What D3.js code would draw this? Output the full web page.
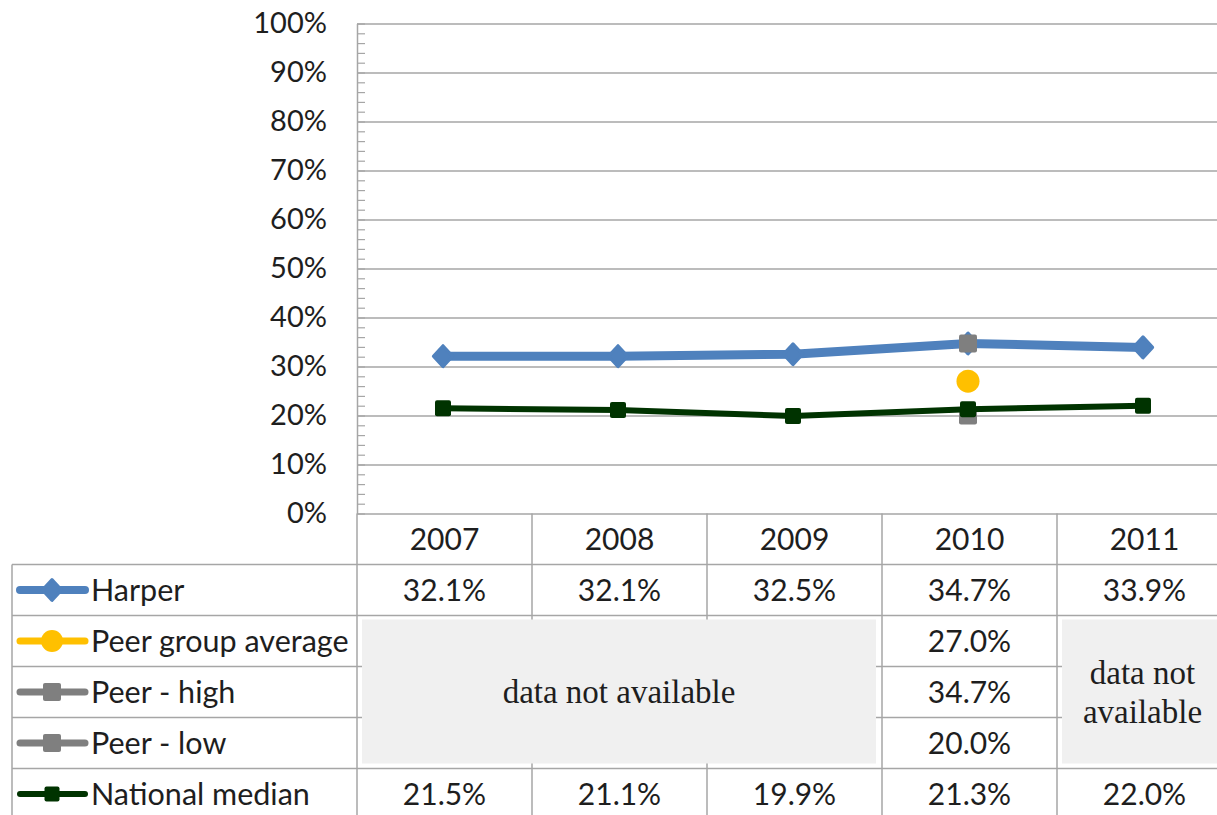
<!DOCTYPE html>
<html>
<head>
<meta charset="utf-8">
<script src="https://cdn.jsdelivr.net/npm/d3@7"></script>
<style>
  html, body { margin: 0; padding: 0; background: #fff; }
  svg { display: block; }
</style>
</head>
<body>
<svg id="chart" width="1217" height="815"></svg>
<script>
// ---------- data ----------
const years = ["2007", "2008", "2009", "2010", "2011"];
const harper = [0.321, 0.321, 0.325, 0.347, 0.339];
const peerAverage = [null, null, null, 0.270, null];
const peerHigh = [null, null, null, 0.347, null];
const peerLow = [null, null, null, 0.200, null];
const nationalMedian = [0.215, 0.211, 0.199, 0.213, 0.220];
const yTicks = [0, 0.1, 0.2, 0.3, 0.4, 0.5, 0.6, 0.7, 0.8, 0.9, 1.0];
const seriesNames = ["Harper", "Peer group average", "Peer - high", "Peer - low", "National median"];
const naText = "data not available";

const series = [
  { name: seriesNames[0], values: harper, color: "#4f81bd", width: 9, marker: "diamond", msize: 21, lsize: 21, lw: 8 },
  { name: seriesNames[1], values: peerAverage, color: "#ffc000", width: 6, marker: "circle", msize: 23, lsize: 22, lw: 7 },
  { name: seriesNames[2], values: peerHigh, color: "#7f7f7f", width: 6, marker: "square", msize: 18, lsize: 18, lw: 7 },
  { name: seriesNames[3], values: peerLow, color: "#7f7f7f", width: 6, marker: "square", msize: 18, lsize: 18, lw: 7 },
  { name: seriesNames[4], values: nationalMedian, color: "#003300", width: 6, marker: "square", msize: 16, lsize: 15, lw: 6 }
];

// ---------- layout ----------
const svg = d3.select("#chart");
const plotLeft = 357, plotTop = 23.5, plotBottom = 513.5;
const colW = 175;
const x = d3.scaleBand().domain(years).range([plotLeft, plotLeft + colW * years.length]).padding(0);
const y = d3.scaleLinear().domain([0, 1]).range([plotBottom, plotTop]);
const gridColor = "#a6a6a6";
const font = "Lato, 'Open Sans', sans-serif";
const fs = 30;
const txt = "#1e1e1e";

// gridlines
svg.append("g")
  .attr("transform", `translate(${plotLeft},0)`)
  .call(d3.axisRight(y).tickValues(yTicks).tickSize(1217 - plotLeft).tickFormat(""))
  .call(g => g.select(".domain").remove())
  .call(g => g.selectAll("line").attr("stroke", gridColor).attr("stroke-width", 1.5));

// minor ticks (inward)
const minor = d3.range(0, 1.0001, 0.02);
svg.append("g")
  .attr("transform", `translate(${plotLeft},0)`)
  .call(d3.axisRight(y).tickValues(minor).tickSize(8).tickFormat(""))
  .call(g => g.select(".domain").remove())
  .call(g => g.selectAll("line").attr("stroke", gridColor).attr("stroke-width", 1.2));

// y axis line + labels
svg.append("g")
  .attr("transform", `translate(${plotLeft},0)`)
  .call(d3.axisLeft(y).tickValues(yTicks).tickSize(0).tickPadding(30).tickFormat(d3.format(".0%")))
  .call(g => g.select(".domain").attr("stroke", gridColor).attr("stroke-width", 1.5))
  .call(g => g.selectAll("text").attr("font-family", font).attr("font-size", fs - 1).attr("fill", txt));

// ---------- table ----------
const rowH = 51;
const headTop = plotBottom, tableTop = plotBottom + rowH;
const tableLeft = 12;
const rowY = i => tableTop + i * rowH;
const tableRight = 1217;
const tg = svg.append("g");
tg.append("line").attr("x1", tableLeft).attr("x2", tableRight).attr("y1", tableTop).attr("y2", tableTop);
series.forEach((s, i) => {
  tg.append("line").attr("x1", tableLeft).attr("x2", tableRight).attr("y1", rowY(i + 1)).attr("y2", rowY(i + 1));
});
tg.append("line").attr("x1", tableLeft).attr("x2", tableLeft).attr("y1", tableTop).attr("y2", 815);
tg.append("line").attr("x1", plotLeft).attr("x2", plotLeft).attr("y1", headTop).attr("y2", 815);
years.forEach(yr => {
  const xr = x(yr) + x.bandwidth();
  tg.append("line").attr("x1", xr).attr("x2", xr).attr("y1", headTop).attr("y2", 815);
});
tg.selectAll("line").attr("stroke", gridColor).attr("stroke-width", 1.5);

// header years
svg.append("g").selectAll("text").data(years).join("text")
  .attr("x", d => x(d) + x.bandwidth() / 2)
  .attr("y", headTop + rowH / 2)
  .attr("dy", "0.35em")
  .attr("text-anchor", "middle")
  .attr("font-family", font).attr("font-size", fs).attr("fill", txt)
  .text(d => d);

// cell values
const fmt = d3.format(".1%");
series.forEach((s, i) => {
  svg.append("g").selectAll("text").data(years.map((yr, j) => ({ yr, v: s.values[j] })).filter(d => d.v != null))
    .join("text")
    .attr("x", d => x(d.yr) + x.bandwidth() / 2)
    .attr("y", rowY(i) + rowH / 2)
    .attr("dy", "0.35em")
    .attr("text-anchor", "middle")
    .attr("font-family", font).attr("font-size", fs).attr("fill", txt)
    .text(d => fmt(d.v));
});

// "data not available" boxes
const naBoxes = [
  { from: "2007", to: "2009", lines: [naText] },
  { from: "2011", to: "2011", lines: ["data not", "available"] }
];
naBoxes.forEach(b => {
  const x0 = x(b.from) + 5, x1 = Math.min(x(b.to) + x.bandwidth() - 6, 1217);
  const y0 = rowY(1) + 4, y1 = rowY(4) - 5;
  svg.append("rect").attr("x", x0).attr("y", y0).attr("width", x1 - x0).attr("height", y1 - y0).attr("fill", "#f0f0f0");
  const cx = b.lines.length > 1 ? x(b.from) + x.bandwidth() / 2 - 2 : (x0 + x1) / 2, cy = (y0 + y1) / 2;
  const lh = 39;
  svg.append("text")
    .attr("x", cx).attr("text-anchor", "middle")
    .attr("font-family", "'Liberation Serif', 'Times New Roman', serif").attr("font-size", 33).attr("fill", txt)
    .selectAll("tspan").data(b.lines).join("tspan")
    .attr("x", cx)
    .attr("y", (d, k) => cy + (k - (b.lines.length - 1) / 2) * lh)
    .attr("dy", "0.35em")
    .text(d => d);
});

// ---------- markers ----------
function drawMarker(g, type, cx, cy, size, color) {
  if (type === "diamond") {
    const h = size / 2, w = size * 0.46;
    g.append("path").attr("d", `M${cx},${cy - h}L${cx + w},${cy}L${cx},${cy + h}L${cx - w},${cy}Z`)
      .attr("fill", color).attr("stroke", color).attr("stroke-width", 3).attr("stroke-linejoin", "round");
  } else if (type === "circle") {
    g.append("circle").attr("cx", cx).attr("cy", cy).attr("r", size / 2).attr("fill", color);
  } else {
    g.append("rect").attr("x", cx - size / 2).attr("y", cy - size / 2).attr("width", size).attr("height", size).attr("rx", 2).attr("fill", color);
  }
}

// legend in table
series.forEach((s, i) => {
  const g = svg.append("g");
  const cy = rowY(i) + rowH / 2;
  g.append("line").attr("x1", 20).attr("x2", 85).attr("y1", cy).attr("y2", cy)
    .attr("stroke", s.color).attr("stroke-width", s.lw).attr("stroke-linecap", "round");
  drawMarker(g, s.marker, 52, cy, s.lsize, s.color);
  g.append("text").attr("x", 91).attr("y", cy).attr("dy", "0.35em")
    .attr("font-family", font).attr("font-size", fs + 0.5).attr("fill", txt).text(s.name);
});

// ---------- lines ----------
const cxOf = yr => x(yr) + x.bandwidth() / 2 - 1.5;
series.forEach(s => {
  const pts = years.map((yr, j) => ({ yr, v: s.values[j] })).filter(d => d.v != null);
  const g = svg.append("g");
  if (pts.length > 1) {
    g.append("path").datum(pts)
      .attr("d", d3.line().x(d => cxOf(d.yr)).y(d => y(d.v)))
      .attr("fill", "none").attr("stroke", s.color).attr("stroke-width", s.width)
      .attr("stroke-linejoin", "round").attr("stroke-linecap", "round");
  }
  pts.forEach(d => drawMarker(g, s.marker, cxOf(d.yr), y(d.v), s.msize, s.color));
});
</script>
</body>
</html>
